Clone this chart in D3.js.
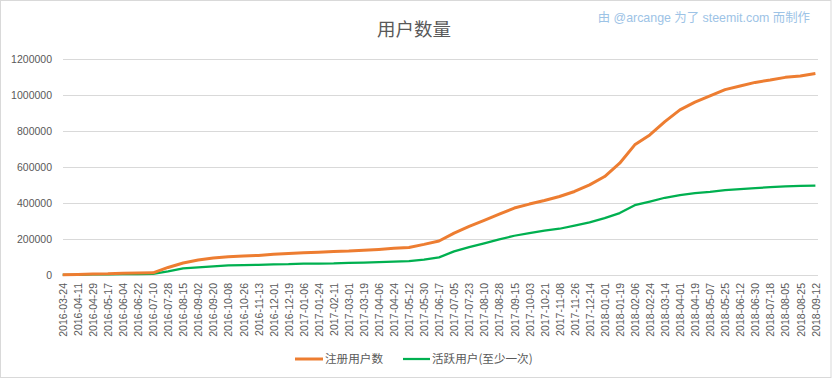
<!DOCTYPE html>
<html>
<head>
<meta charset="utf-8">
<script src="https://cdn.jsdelivr.net/npm/d3@7/dist/d3.min.js"></script>
<style>
  html, body { margin: 0; padding: 0; background: #fff; }
  svg { display: block; }
  text { font-family: "Liberation Sans", "Noto Sans CJK SC", sans-serif; fill: #595959; }
</style>
</head>
<body>
<svg id="chart" width="832" height="379"></svg>
<script>
const title = "用户数量";
const credit = "由 @arcange 为了 steemit.com 而制作";
const seriesNames = ["注册用户数", "活跃用户(至少一次)"];
const seriesColors = ["#ED7D31", "#00B050"];

const dates = [
  "2016-03-24","2016-04-11","2016-04-29","2016-05-17","2016-06-04","2016-06-22","2016-07-10","2016-07-28",
  "2016-08-15","2016-09-02","2016-09-20","2016-10-08","2016-10-26","2016-11-13","2016-12-01","2016-12-19",
  "2017-01-06","2017-01-24","2017-02-11","2017-03-01","2017-03-19","2017-04-06","2017-04-24","2017-05-12",
  "2017-05-30","2017-06-17","2017-07-05","2017-07-23","2017-08-10","2017-08-28","2017-09-15","2017-10-03",
  "2017-10-21","2017-11-08","2017-11-26","2017-12-14","2018-01-01","2018-01-19","2018-02-06","2018-02-24",
  "2018-03-14","2018-04-01","2018-04-19","2018-05-07","2018-05-25","2018-06-12","2018-06-30","2018-07-18",
  "2018-08-05","2018-08-25","2018-09-12"
];

const registered = [
  1500, 3000, 6000, 7000, 10000, 11000, 12000, 42000,
  67000, 83000, 94000, 102000, 105000, 109000, 115000, 120000,
  124000, 127000, 131000, 133000, 137000, 142000, 148000, 153000,
  170000, 189000, 233000, 270000, 303000, 338000, 372000, 394000,
  414000, 436000, 464000, 501000, 547000, 621000, 723000, 778000,
  852000, 917000, 960000, 995000, 1030000, 1050000, 1070000, 1083000,
  1098000, 1106000, 1120000
];

const active = [
  500, 1000, 3000, 4000, 4500, 5000, 6000, 20000,
  37000, 43000, 48000, 53000, 55000, 56000, 59000, 60000,
  63000, 63000, 64000, 67000, 69000, 71000, 74000, 77000,
  85000, 98000, 131000, 155000, 176000, 198000, 218000, 233000,
  246000, 257000, 274000, 292000, 316000, 344000, 388000, 408000,
  429000, 444000, 455000, 462000, 471000, 477000, 483000, 488000,
  492000, 495000, 497000
];

const yTicks = [0, 200000, 400000, 600000, 800000, 1000000, 1200000];

const svg = d3.select("#chart");

// outer frame
svg.append("rect").attr("x", 0.5).attr("y", 0.5).attr("width", 830.5).attr("height", 377)
  .attr("fill", "#fff").attr("stroke", "#d9d9d9").attr("stroke-width", 1);

const plot = { left: 63, right: 818, top: 59, bottom: 275 };

const x = d3.scalePoint().domain(dates).range([62.7, 815.4]);
const y = d3.scaleLinear().domain([0, 1200000]).range([plot.bottom, plot.top]);

// gridlines
svg.append("g").selectAll("line").data(yTicks).join("line")
  .attr("x1", plot.left).attr("x2", plot.right)
  .attr("y1", d => Math.round(y(d)) + 0.5).attr("y2", d => Math.round(y(d)) + 0.5)
  .attr("stroke", "#d9d9d9").attr("stroke-width", 1);

// y axis
const yAxis = d3.axisLeft(y).tickValues(yTicks).tickSize(0).tickPadding(0).tickFormat(d3.format("d"));
const gy = svg.append("g").attr("transform", "translate(52,0)").call(yAxis);
gy.select(".domain").remove();
gy.selectAll("text").style("font-size", "10.5px").attr("fill", "#595959")
  .style("font-family", "'Liberation Sans', sans-serif");

// x axis
const xAxis = d3.axisBottom(x).tickSize(0).tickPadding(0);
const gx = svg.append("g").attr("transform", `translate(0,${plot.bottom})`).call(xAxis);
gx.select(".domain").remove();
gx.selectAll("text")
  .attr("transform", "rotate(-90)")
  .attr("text-anchor", "end")
  .attr("x", -8).attr("y", 0).attr("dy", "0.35em")
  .style("font-size", "10.5px").attr("fill", "#595959")
  .style("font-family", "'Liberation Sans', sans-serif");

// lines
const line = d3.line().x((d, i) => x(dates[i])).y(d => y(d));
svg.append("path").datum(active).attr("d", line)
  .attr("fill", "none").attr("stroke", seriesColors[1]).attr("stroke-width", 2.25).attr("stroke-linejoin", "round");
svg.append("path").datum(registered).attr("d", line)
  .attr("fill", "none").attr("stroke", seriesColors[0]).attr("stroke-width", 3).attr("stroke-linejoin", "round");

// title
svg.append("text").attr("x", 414).attr("y", 36).attr("text-anchor", "middle")
  .style("font-size", "18.5px").style("font-family", "'Noto Sans CJK SC', sans-serif").text(title);

// credit
svg.append("text").attr("x", 810).attr("y", 22).attr("text-anchor", "end")
  .style("font-size", "12.4px").style("fill", "#9DC3E6").text(credit);

// legend
const legend = [
  { x1: 295, x2: 323, tx: 325, w: 3 },
  { x1: 403, x2: 430, tx: 432, w: 2.25 }
];
const lg = svg.append("g");
legend.forEach((l, i) => {
  lg.append("line").attr("x1", l.x1).attr("x2", l.x2).attr("y1", 359).attr("y2", 359)
    .attr("stroke", seriesColors[i]).attr("stroke-width", l.w);
  lg.append("text").attr("x", l.tx).attr("y", 359).attr("dy", "0.36em")
    .style("font-size", "11.6px").style("font-family", "'Noto Sans CJK SC', sans-serif").text(seriesNames[i]);
});
</script>
</body>
</html>
